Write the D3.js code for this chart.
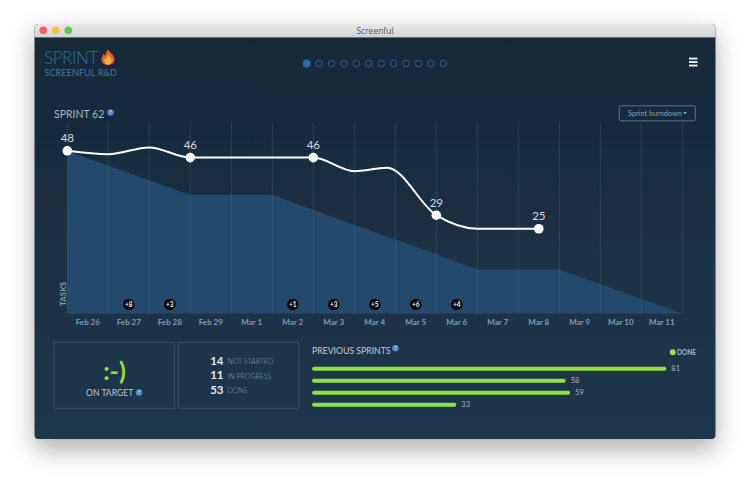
<!DOCTYPE html>
<html>
<head>
<meta charset="utf-8">
<script src="https://cdn.jsdelivr.net/npm/d3@7"></script>
<style>
    html, body { margin: 0; padding: 0; background: #fff; }
    svg { display: block; }
    text { font-family: "Lato", "Open Sans", sans-serif; }
</style>
</head>
<body>
<script>
// chart data
const days = ["Feb 26", "Feb 27", "Feb 28", "Feb 29", "Mar 1", "Mar 2", "Mar 3", "Mar 4", "Mar 5", "Mar 6", "Mar 7", "Mar 8", "Mar 9", "Mar 10", "Mar 11"];
const idealDays = [0, 1, 2, 3, 4, 5, 6, 7, 8, 9, 10, 11, 12, 13, 14, 15];
const idealValues = [48, 43.6, 39.3, 35, 35, 35, 30.6, 26.2, 21.8, 17.4, 13, 13, 13, 8.7, 4.3, 0];
const actualDays = [0, 1, 2, 3, 4, 5, 6, 7, 7.8, 9, 10, 11, 11.5];
const actualValues = [48, 47, 49, 46, 46, 46, 46, 42, 43, 29, 25, 25, 25];
const labelledPoints = [0, 3, 6, 9, 12];
const addedDays = ["Feb 27", "Feb 28", "Mar 2", "Mar 3", "Mar 4", "Mar 5", "Mar 6"];
const addedTasks = ["+8", "+3", "+1", "+3", "+5", "+6", "+4"];
const statusCounts = [14, 11, 53];
const statusNames = ["NOT STARTED", "IN PROGRESS", "DONE"];
const previousSprints = ["Sprint 61", "Sprint 60", "Sprint 59", "Sprint 58"];
const previousDone = [81, 58, 59, 33];
const sprintPages = d3.range(12);

const svg = d3.select("body").append("svg").attr("width", 750).attr("height", 485);
const defs = svg.append("defs");

// ^ WINDOW ^ //
const bgGrad = defs.append("linearGradient").attr("id", "bgGrad").attr("x1", 0).attr("x2", 0).attr("y1", 0).attr("y2", 1);
bgGrad.append("stop").attr("offset", "0%").attr("stop-color", "#162838");
bgGrad.append("stop").attr("offset", "100%").attr("stop-color", "#1f374d");
const barGrad = defs.append("linearGradient").attr("id", "barGrad").attr("x1", 0).attr("x2", 0).attr("y1", 0).attr("y2", 1);
barGrad.append("stop").attr("offset", "0%").attr("stop-color", "#e9e9e9");
barGrad.append("stop").attr("offset", "100%").attr("stop-color", "#d2d2d2");
const shadow = defs.append("filter").attr("id", "shadow").attr("x", "-10%").attr("y", "-10%").attr("width", "120%").attr("height", "125%");
shadow.append("feDropShadow").attr("dx", 0).attr("dy", 10).attr("stdDeviation", 12).attr("flood-color", "#000").attr("flood-opacity", 0.32);

svg.append("rect").attr("x", 34.5).attr("y", 24).attr("width", 681).attr("height", 415).attr("rx", 4).attr("fill", "url(#bgGrad)").attr("filter", "url(#shadow)");
svg.append("path").attr("d", "M34.5 37V28a4 4 0 0 1 4-4H711.5a4 4 0 0 1 4 4V37Z").attr("fill", "url(#barGrad)");
svg.append("rect").attr("x", 34.5).attr("y", 37).attr("width", 681).attr("height", 0.7).attr("fill", "#8a8f94");
svg.selectAll(".light").data(["#f2625a", "#f6bd3f", "#5fc94f"]).enter().append("circle")
    .attr("class", "light").attr("cx", (d, i) => 43.3 + i * 12.5).attr("cy", 30.3).attr("r", 3.8).attr("fill", (d) => d);
svg.append("text").attr("x", 375).attr("y", 34).attr("text-anchor", "middle").attr("font-size", 8.5).attr("fill", "#55585b").style("font-family", "Open Sans").text("Screenful");

// ^ HEADER ^ //
svg.append("text").attr("x", 44).attr("y", 63.8).attr("font-size", 17).attr("font-weight", 300).attr("letter-spacing", -0.4).attr("fill", "#2f6ca6").text("SPRINT");
svg.append("text").attr("x", 44.5).attr("y", 75.5).attr("font-size", 9).attr("letter-spacing", 0.1).attr("fill", "#3a7aa8").text("SCREENFUL R&D");
// flame
const flame = svg.append("g").attr("transform", "translate(108,57.5)");
flame.append("path").attr("d", "M0-8C1.5-5 6-3 6.5 1.5 6.8 5 4 7.5 0 7.5-4 7.5-6.8 5-6.5 1.5-6.3-1-5-2-4.2-3.8-3.6-2.4-3-2-2.4-1.8-2.6-4-1.6-6 0-8Z").attr("fill", "#e8622a");
flame.append("path").attr("d", "M.5-3C1.2-1 3.6 0 3.6 3 3.6 5.5 2 7 0 7-2 7-3.6 5.5-3.6 3.4-3.6 1.8-2.6 1-2 0-1.6.8-1.2 1-.8 1-1 -.6-.3-2 .5-3Z").attr("fill", "#f7b733");

const pageScale = d3.scalePoint().domain(sprintPages).range([306.7, 443.3]);
svg.selectAll(".page").data(sprintPages).enter().append("circle")
    .attr("class", "page").attr("cx", (d) => pageScale(d)).attr("cy", 63.5).attr("r", (d) => (d === 0 ? 3.8 : 3.3))
    .attr("fill", (d) => (d === 0 ? "#2f6ca6" : "none")).attr("stroke", "#2a5f8f").attr("stroke-width", 1);

svg.selectAll(".menu").data([58.5, 62, 65.5]).enter().append("rect")
    .attr("class", "menu").attr("x", 689).attr("y", (d) => d - 0.9).attr("width", 8.5).attr("height", 1.9).attr("fill", "#eef1f3");

// help icon
const helpIcon = (x, y) => {
    svg.append("circle").attr("cx", x).attr("cy", y).attr("r", 3.3).attr("fill", "#4f86c6");
    svg.append("text").attr("x", x).attr("y", y + 1.8).attr("text-anchor", "middle").attr("font-size", 5).attr("font-weight", 700).attr("fill", "#e5eef7").text("?");
};

svg.append("text").attr("x", 54).attr("y", 118).attr("font-size", 10.5).attr("fill", "#a9b4bd").text("SPRINT 62");
helpIcon(110.5, 112.5);

svg.append("rect").attr("x", 619.3).attr("y", 105.8).attr("width", 76).attr("height", 15).attr("rx", 1.5).attr("fill", "none").attr("stroke", "#66788a").attr("stroke-width", 0.9);
svg.append("text").attr("x", 628).attr("y", 116).attr("font-size", 7.3).attr("fill", "#8fa0ae").text("Sprint burndown");
svg.append("path").attr("d", "M683.3 112.3h3.4l-1.7 2Z").attr("fill", "#c8d0d6");

// ^ BURNDOWN CHART ^ //
const chartLeft = 67.3, chartRight = 682.3, chartBottom = 313.5, chartTop = 122.5;
const xBand = d3.scaleBand().domain(days).range([chartLeft, chartRight]);
const xDay = d3.scaleLinear().domain([0, days.length]).range([chartLeft, chartRight]);
const yTasks = d3.scaleLinear().domain([0, 56]).range([chartBottom, 123.7]);

const area = d3.area().x((d) => xDay(d[0])).y0(yTasks(0)).y1((d) => yTasks(d[1]));
svg.append("path").datum(idealDays.map((d, i) => [d, idealValues[i]])).attr("d", area).attr("fill", "#234a6c");

svg.selectAll(".grid").data(idealDays).enter().append("line")
    .attr("class", "grid").attr("x1", (d) => xDay(d)).attr("x2", (d) => xDay(d))
    .attr("y1", chartTop).attr("y2", chartBottom).attr("stroke", "#5d85a6").attr("stroke-opacity", 0.32).attr("stroke-width", 0.8);

const xAxis = svg.append("g").attr("transform", `translate(0,${chartBottom})`)
    .call(d3.axisBottom(xBand).tickSize(0).tickPadding(6));
xAxis.select(".domain").remove();
xAxis.selectAll("text").attr("font-size", 8).attr("font-weight", 700).attr("fill", "#7d9db2").style("font-family", "Lato");

svg.append("text").attr("transform", "translate(65.5,306) rotate(-90)").attr("font-size", 8).attr("font-weight", 700).attr("fill", "#7d9db2").text("TASKS");

const badges = svg.selectAll(".badge").data(addedDays).enter().append("g")
    .attr("class", "badge").attr("transform", (d) => `translate(${xBand(d) + xBand.bandwidth() / 2},304.5)`);
badges.append("circle").attr("r", 5.8).attr("fill", "#04070a");
badges.append("text").attr("text-anchor", "middle").attr("y", 2.4).attr("font-size", 6.5).attr("font-weight", 700).attr("fill", "#f2f2f2").text((d, i) => addedTasks[i]);

const line = d3.line().x((d) => xDay(d[0])).y((d) => yTasks(d[1])).curve(d3.curveMonotoneX);
svg.append("path").datum(actualDays.map((d, i) => [d, actualValues[i]])).attr("d", line).attr("fill", "none").attr("stroke", "#fff").attr("stroke-width", 2);

svg.selectAll(".dot").data(labelledPoints).enter().append("circle")
    .attr("class", "dot").attr("cx", (d) => xDay(actualDays[d])).attr("cy", (d) => yTasks(actualValues[d])).attr("r", 4.8).attr("fill", "#fff");
svg.selectAll(".dotLabel").data(labelledPoints).enter().append("text")
    .attr("class", "dotLabel").attr("x", (d) => xDay(actualDays[d])).attr("y", (d) => yTasks(actualValues[d]) - 8.5)
    .attr("text-anchor", "middle").attr("font-size", 11.5).attr("fill", "#d5dce1").text((d) => actualValues[d]);

// ^ BOTTOM PANELS ^ //
svg.selectAll(".panel").data([54, 178.5]).enter().append("rect")
    .attr("class", "panel").attr("x", (d) => d).attr("y", 342.3).attr("width", 120.3).attr("height", 66)
    .attr("fill", "none").attr("stroke", "#3a5166").attr("stroke-width", 0.9);

svg.append("text").attr("x", 114.5).attr("y", 380).attr("text-anchor", "middle").attr("font-size", 25).attr("font-weight", 700).attr("fill", "#93e044").text(":-)");
svg.append("text").attr("x", 86).attr("y", 396).attr("font-size", 8.6).attr("fill", "#bcc6cd").text("ON TARGET");
helpIcon(139, 392.5);

const statusY = d3.scalePoint().domain(statusNames).range([364.5, 393.5]);
svg.selectAll(".count").data(statusCounts).enter().append("text")
    .attr("class", "count").attr("x", 223.5).attr("y", (d, i) => statusY(statusNames[i]))
    .attr("text-anchor", "end").attr("font-size", 11.5).attr("font-weight", 700).attr("fill", "#e6ebee").text((d) => d);
svg.selectAll(".status").data(statusNames).enter().append("text")
    .attr("class", "status").attr("x", 227.5).attr("y", (d) => statusY(d) - 0.5)
    .attr("font-size", 7).attr("font-weight", 300).attr("fill", "#93a0aa").text((d) => d);

// ^ PREVIOUS SPRINTS ^ //
svg.append("text").attr("x", 312).attr("y", 353.5).attr("font-size", 8.7).attr("fill", "#c3cbd1").text("PREVIOUS SPRINTS");
helpIcon(395.5, 348.3);
svg.append("circle").attr("cx", 672.8).attr("cy", 352.3).attr("r", 3).attr("fill", "#93e044");
svg.append("text").attr("x", 677).attr("y", 355).attr("font-size", 6.5).attr("font-weight", 700).attr("fill", "#a9b4bd").text("DONE");

const xDone = d3.scaleLinear().domain([0, 81]).range([312, 666.3]);
const yPrev = d3.scaleBand().domain(previousSprints).range([362.7, 410.7]);
svg.selectAll(".prevBar").data(previousDone).enter().append("rect")
    .attr("class", "prevBar").attr("x", xDone(0))
    .attr("y", (d, i) => yPrev(previousSprints[i]) + yPrev.bandwidth() / 2 - 2)
    .attr("width", (d) => xDone(d) - xDone(0)).attr("height", 4).attr("rx", 2).attr("fill", "#93e044");
svg.selectAll(".prevLabel").data(previousDone).enter().append("text")
    .attr("class", "prevLabel").attr("x", (d) => xDone(d) + 5)
    .attr("y", (d, i) => yPrev(previousSprints[i]) + yPrev.bandwidth() / 2 + 2.5)
    .attr("font-size", 7.5).attr("fill", "#a9b4bd").text((d) => d);
</script>
</body>
</html>
